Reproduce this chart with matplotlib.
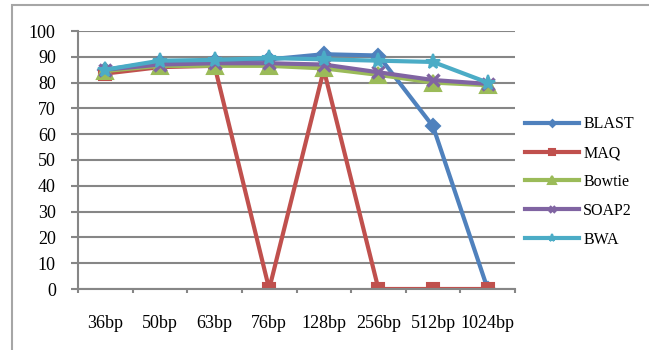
import matplotlib.pyplot as plt
from matplotlib.patches import Rectangle
from matplotlib.ticker import FixedLocator

categories = ['36bp', '50bp', '63bp', '76bp', '128bp', '256bp', '512bp', '1024bp']
blast = [85, 88, 88.5, 89, 91, 90.5, 63, 0]
maq = [83.5, 86, 86.5, 0, 85, 0, 0, 0]
bowtie = [84.5, 86.5, 86.5, 86.5, 85.5, 83, 80, 79]
soap2 = [85, 87, 87.5, 87.5, 87, 84, 81, 79.5]
bwa = [85, 88.5, 88.8, 89.5, 89, 88.5, 88, 80]

series = [
    ('BLAST', blast, '#4F81BD', 'D', 7),
    ('MAQ', maq, '#C0504D', 's', 9),
    ('Bowtie', bowtie, '#9BBB59', '^', 12),
    ('SOAP2', soap2, '#8064A2', 'x', 8),
    ('BWA', bwa, '#4BACC6', '*', 11),
]

plt.rcParams['font.family'] = ['Liberation Serif', 'DejaVu Serif']

fig = plt.figure(figsize=(6.49, 3.5), dpi=100)
ax = fig.add_axes([78 / 649, 1 - 289 / 350, (515 - 78) / 649, (289 - 31) / 350])

# outer chart frame
fig.patches.append(Rectangle((12 / 649, -0.05), 1.0, 1 - 5 / 350 + 0.05,
                             transform=fig.transFigure, fill=False,
                             edgecolor='#A6A6A6', linewidth=1.5))

x = range(len(categories))
for name, vals, color, marker, ms in series:
    if marker == 'x':
        ax.plot(x, vals, color=color, linewidth=3, marker=marker, markersize=ms,
                markeredgewidth=2.5, label=name)
    else:
        ax.plot(x, vals, color=color, linewidth=3, marker=marker, markersize=ms,
                markeredgecolor=color, markeredgewidth=1.5, label=name)

ax.set_xlim(-0.5, len(categories) - 0.5)
ax.set_ylim(0, 100)
ax.set_yticks(range(0, 101, 10))
ax.set_xticks(list(x))
ax.set_xticklabels(categories)
ax.xaxis.set_minor_locator(FixedLocator([i - 0.5 for i in range(len(categories) + 1)]))
ax.tick_params(axis='x', which='major', length=0, pad=19, labelsize=13)
ax.tick_params(axis='x', which='minor', length=3, width=1.5, color='#868686')
ax.tick_params(axis='y', length=5, width=1.5, color='#868686', labelsize=13, pad=11)
ax.grid(axis='y', color='#868686', linewidth=1.5)
ax.set_axisbelow(True)
for s in ['top', 'right']:
    ax.spines[s].set_visible(False)
for s in ['left', 'bottom']:
    ax.spines[s].set_color('#868686')
    ax.spines[s].set_linewidth(1.5)

ax.legend(loc='center left', bbox_to_anchor=((525 - 78) / 437, (289 - 182) / 258),
          frameon=False, borderpad=0, borderaxespad=0,
          fontsize=11.5, handlelength=3.4, labelspacing=0.8, handletextpad=0.25,
          markerscale=0.5)

fig.savefig('out.png', dpi=100)
